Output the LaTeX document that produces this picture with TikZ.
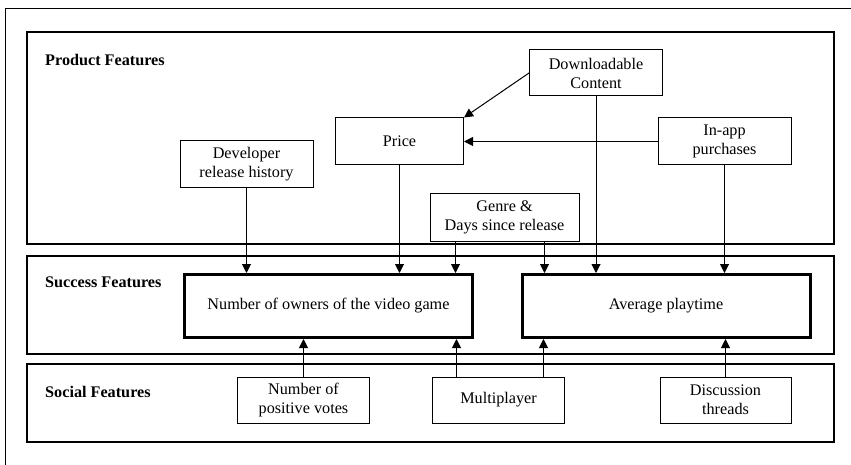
\documentclass[tikz,border=0pt]{standalone}
\usepackage{fontspec}
\setmainfont{Liberation Serif}
\usetikzlibrary{arrows.meta}
\begin{document}
\begin{tikzpicture}[x=1pt,y=-1pt,
  every node/.style={font=\fontsize{16.2}{19}\selectfont},
  feat/.style={draw, line width=1pt, align=center, inner sep=0pt},
  target/.style={draw, line width=3pt, align=center, inner sep=0pt,
                 minimum width=288, minimum height=63},
  panel/.style={draw, line width=1.3pt},
  head/.style={font=\fontsize{16.2}{19}\selectfont\bfseries, anchor=base west, inner sep=0pt},
  arr/.style={line width=1pt, -{Triangle[length=9pt,width=9pt]}}]
\useasboundingbox (0,0) rectangle (851,465);

% outer frame (left and top edges)
\draw[line width=1pt] (5.5,465) -- (5.5,8.5) -- (851,8.5);

% group panels
\draw[panel] (27,32) rectangle (834,244);
\draw[panel] (27,256) rectangle (834,354);
\draw[panel] (27,364) rectangle (834,442);

\node[head] (hprod) at (45,66) {Product Features};
\node[head] (hsucc) at (45,287) {Success Features};
\node[head] (hsoc)  at (45,397) {Social Features};

% product features
\node[feat, minimum width=133, minimum height=46] (dlc)   at (596,73)     {Downloadable\\Content};
\node[feat, minimum width=128, minimum height=47] (price) at (399.5,141.5) {Price};
\node[feat, minimum width=133, minimum height=47] (inapp) at (724.5,141.5) {In-app\\purchases};
\node[feat, minimum width=133, minimum height=47] (dev)   at (246.5,164.5) {Developer\\release history};
\node[feat, minimum width=149, minimum height=47] (genre) at (504.5,217.5) {Genre \&\\Days since release};

% success features
\node[target] (own)  at (328.5,306) {Number of owners of the video game};
\node[target] (play) at (666,306)   {Average playtime};

% social features
\node[feat, minimum width=132, minimum height=46] (votes) at (303.5,400) {Number of\\positive votes};
\node[feat, minimum width=132, minimum height=46] (multi) at (498.5,400) {Multiplayer};
\node[feat, minimum width=131, minimum height=46] (disc)  at (725.5,400) {Discussion\\threads};

% influences among product features
\draw[arr] (dlc.west) -- (price.north east);
\draw[arr] (inapp.west) -- (price.east);

% product features -> success features
\draw[arr] (dev.south) -- (dev.south |- own.north);
\draw[arr] (price.south) -- (price.south |- own.north);
\draw[arr] ([xshift=26]genre.south west) -- ([xshift=26]genre.south west |- own.north);
\draw[arr] ([xshift=-35]genre.south east) -- ([xshift=-35]genre.south east |- play.north);
\draw[arr] (dlc.south) -- (dlc.south |- play.north);
\draw[arr] (inapp.south) -- (inapp.south |- play.north);

% social features -> success features
\draw[arr] (votes.north) -- (votes.north |- own.south);
\draw[arr] ([xshift=-42]multi.north) -- ([xshift=-42]multi.north |- own.south);
\draw[arr] ([xshift=45]multi.north) -- ([xshift=45]multi.north |- play.south);
\draw[arr] (disc.north) -- (disc.north |- play.south);
\end{tikzpicture}
\end{document}
